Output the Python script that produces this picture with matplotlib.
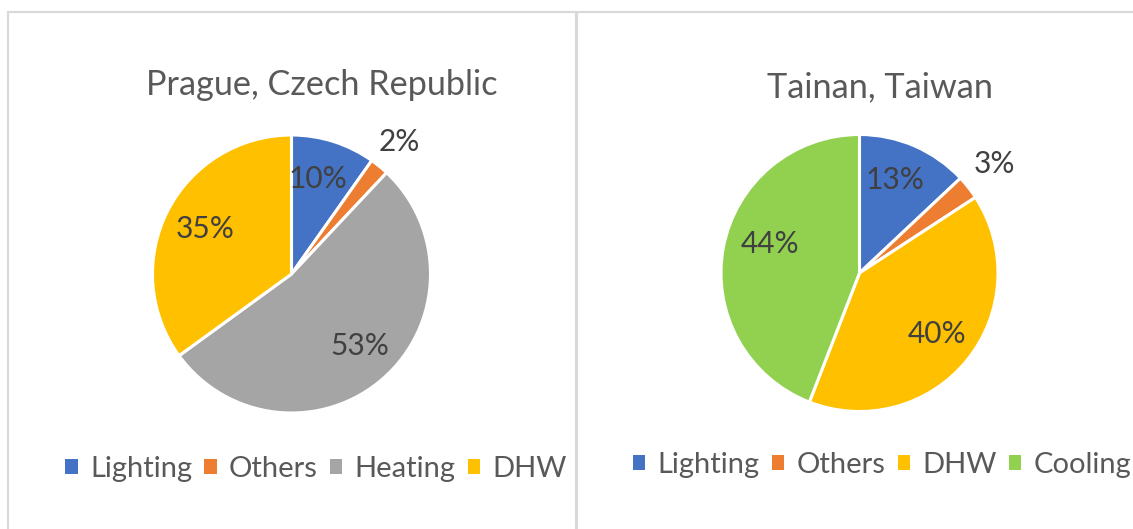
import matplotlib
matplotlib.use("Agg")
import matplotlib.pyplot as plt
import numpy as np
from matplotlib.patches import Rectangle

plt.rcParams['font.family'] = ['Lato', 'DejaVu Sans']

# ---- data ----
prague_title = "Prague, Czech Republic"
prague_labels = ["Lighting", "Others", "Heating", "DHW"]
prague_values = [9.8, 2.2, 53.0, 35.0]
prague_colors = ["#4472C4", "#ED7D31", "#A5A5A5", "#FFC000"]

tainan_title = "Tainan, Taiwan"
tainan_labels = ["Lighting", "Others", "DHW", "Cooling"]
tainan_values = [13.0, 2.8, 40.1, 44.1]
tainan_colors = ["#4472C4", "#ED7D31", "#FFC000", "#92D050"]

W, H = 1133, 529
DPI = 100
fig = plt.figure(figsize=(W / DPI, H / DPI), dpi=DPI)
fig.patch.set_facecolor("white")

def fx(x):
    return x / W

def fy(y):
    return 1 - y / H

LABEL_FS = 21.5
TITLE_FS = 24.7
LEG_FS = 21

# panel borders
for (x0, x1) in [(8, 576), (577, 1140)]:
    fig.patches.append(Rectangle((fx(x0), fy(545)), fx(x1) - fx(x0), fy(12) - fy(545),
                                 transform=fig.transFigure, fill=False,
                                 edgecolor="#D9D9D9", linewidth=1.5, zorder=0))

def draw_pie(values, labels, colors, title, cx, cy, r, title_xy, leg_xy, label_nudge, label_r):
    ax = fig.add_axes([fx(cx - r), fy(cy + r), fx(2 * r), (2 * r) / H])
    wedges, _ = ax.pie(values, colors=colors, startangle=90, counterclock=False,
                       wedgeprops=dict(edgecolor="white", linewidth=2.2))
    ax.set_xlim(-1, 1)
    ax.set_ylim(-1, 1)
    ax.set_aspect("equal")
    ax.axis("off")
    total = sum(values)
    cum = 0
    for i, v in enumerate(values):
        mid = (cum + v / 2) / total * 360
        cum += v
        frac = v / total
        rr = label_r[i]
        ang = np.deg2rad(90 - mid + label_nudge[i])
        ax.text(rr * np.cos(ang), rr * np.sin(ang), f"{round(frac * 100):d}%",
                ha="center", va="center", fontsize=LABEL_FS, color="#404040")
    fig.text(fx(title_xy[0]), fy(title_xy[1]), title, ha="center", va="center",
             fontsize=TITLE_FS, color="#595959")
    fig.legend(wedges, labels, loc="center", bbox_to_anchor=(fx(leg_xy[0]), fy(leg_xy[1])),
               ncol=len(labels), frameon=False, fontsize=LEG_FS, labelcolor="#595959",
               handlelength=0.42, handleheight=0.42, handletextpad=0.42,
               columnspacing=0.42, borderpad=0)
    for h in fig.legends[-1].legend_handles:
        h.set_edgecolor("none")

draw_pie(prague_values, prague_labels, prague_colors, prague_title,
         291.5, 274, 139, (322, 85), (316, 469), [2, 0, 2, -0.5], [0.71, 1.23, 0.71, 0.70])
draw_pie(tainan_values, tainan_labels, tainan_colors, tainan_title,
         859.5, 273, 138.5, (880, 87), (882, 465), [2.5, 0.8, 0.8, -7.4], [0.72, 1.25, 0.71, 0.68])

fig.savefig("out.png", dpi=DPI, facecolor="white")
